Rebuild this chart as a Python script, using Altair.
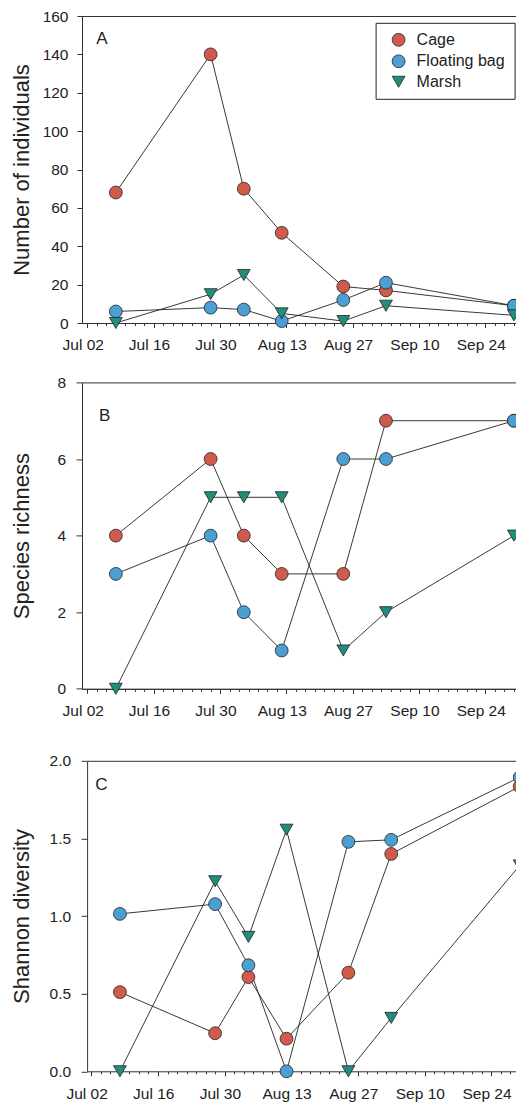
import altair as alt
import pandas as pd

FONT = "Liberation Sans"

dates = ["2013-07-08", "2013-07-28", "2013-08-04", "2013-08-12",
         "2013-08-25", "2013-09-03", "2013-09-30"]
series = ["Cage", "Floating bag", "Marsh"]
colors = ["#D05A4C", "#4C9FD2", "#1F8E7A"]
shapes = ["circle", "circle", "triangle-down"]
sizes = [165, 165, 215]

ind_cage = [68, 140, 70, 47, 19, 17, 9]
ind_bag = [6, 8, 7, 1, 12, 21, 9]
ind_marsh = [0, 15, 25, 5, 1, 9, 4]

rich_cage = [4, 6, 4, 3, 3, 7, 7]
rich_bag = [3, 4, 2, 1, 6, 6, 7]
rich_marsh = [0, 5, 5, 5, 1, 2, 4]

div_cage = [0.51, 0.245, 0.607, 0.21, 0.635, 1.40, 1.835]
div_bag = [1.014, 1.077, 0.683, 0.0, 1.478, 1.491, 1.894]
div_marsh = [0.0, 1.224, 0.866, 1.556, 0.0, 0.344, 1.326]

major_ticks = ["2013-07-02", "2013-07-16", "2013-07-30", "2013-08-13",
               "2013-08-27", "2013-09-10", "2013-09-24"]
minor_ticks = [d.strftime("%Y-%m-%d") for d in pd.date_range("2013-07-02", "2013-09-30", freq="2D")]


def dt(s, hours=0, minutes=0):
    y, m, d = (int(v) for v in s.split("-"))
    return alt.DateTime(year=y, month=m, date=d, hours=hours, minutes=minutes, utc=True)


major_vals = [dt(s) for s in major_ticks]
minor_vals = [dt(s) for s in minor_ticks]


def long_frame(cage, bag, marsh):
    rows = []
    for name, vals in zip(series, [cage, bag, marsh]):
        for d, v in zip(dates, vals):
            rows.append({"date": d, "series": name, "value": v})
    return pd.DataFrame(rows)


def panel(cage, bag, marsh, ytitle, ymax, yvals, yfmt, letter, lx, ly,
          width, height, xdomain, title_pad, ytick, ylabpad, show_legend,
          xrange=None, yoffset=0):
    df = long_frame(cage, bag, marsh)
    base = alt.Chart(df)
    if xrange is None:
        xscale = alt.Scale(type="utc", domain=xdomain)
    else:
        xscale = alt.Scale(type="utc", domain=xdomain, range=xrange)
    y = alt.Y("value:Q",
              scale=alt.Scale(domain=[0, ymax], nice=False, zero=True),
              axis=alt.Axis(values=yvals, format=yfmt, title=ytitle,
                            titleFontSize=22, titlePadding=title_pad,
                            minExtent=40, maxExtent=40, tickSize=ytick,
                            labelPadding=ylabpad, grid=False, offset=yoffset))
    lines = base.mark_line(color="#222", strokeWidth=0.9).encode(
        x=alt.X("date:T", scale=xscale, title=None,
                axis=alt.Axis(values=major_vals, format="%b %d", orient="bottom",
                              tickSize=4.5, labelPadding=10.2, labelOffset=-4.7,
                              grid=False)),
        y=y,
        detail="series:N",
    )
    if show_legend:
        legend = alt.Legend(orient="none", legendX=293.6, legendY=6.8,
                            padding=9, symbolOffset=6, labelOffset=10,
                            rowPadding=3.5, labelFontSize=16, labelFont=FONT,
                            labelColor="#222", symbolSize=160,
                            symbolStrokeColor="#222", symbolStrokeWidth=0.8,
                            strokeColor="#222", fillColor="white")
    else:
        legend = None
    points = base.mark_point(filled=True, opacity=1, stroke="#222", strokeWidth=0.8).encode(
        x=alt.X("date:T", scale=xscale, title=None,
                axis=alt.Axis(values=minor_vals, labels=False, tickSize=2.5,
                              domain=False, orient="bottom", grid=False)),
        y=y,
        color=alt.Color("series:N", title=None,
                        scale=alt.Scale(domain=series, range=colors), legend=legend),
        shape=alt.Shape("series:N", title=None,
                        scale=alt.Scale(domain=series, range=shapes), legend=legend),
        size=alt.Size("series:N", scale=alt.Scale(domain=series, range=sizes), legend=None),
    )
    text = alt.Chart(pd.DataFrame({"label": [letter]})).mark_text(
        align="left", baseline="alphabetic", fontSize=17, font=FONT, color="#222"
    ).encode(x=alt.value(lx), y=alt.value(ly), text="label:N")
    layers = [lines, points]
    if xrange is not None:
        frame = base.mark_point(opacity=0).encode(
            x=alt.X("date:T", scale=xscale, title=None,
                    axis=alt.Axis(orient="top", labels=False, ticks=False,
                                  domain=True, grid=False)),
            y=y,
        )
        layers.append(frame)
    layers.append(text)
    ch = alt.layer(*layers).resolve_axis(x="independent").properties(
        width=width, height=height)
    if xrange is not None:
        ch = ch.properties(view=alt.ViewBackground(stroke="transparent"))
    return ch


dom_ab = [dt("2013-06-30", 20, 40), dt("2013-09-30", 19, 40)]
dom_c = [dt("2013-07-01", 2, 30), dt("2013-10-01", 2, 30)]

A = panel(ind_cage, ind_bag, ind_marsh, "Number of individuals", 160,
          [0, 20, 40, 60, 80, 100, 120, 140, 160], "d", "A", 14.3, 27.6,
          435.8, 307, dom_ab, 8.9, 5, 9, True)
B = panel(rich_cage, rich_bag, rich_marsh, "Species richness", 8,
          [0, 2, 4, 6, 8], "d", "B", 16.9, 38.4,
          435.8, 306.4, dom_ab, 8.9, 6, 10.3, False)
C = panel(div_cage, div_bag, div_marsh, "Shannon diversity", 2.0,
          [0, 0.5, 1.0, 1.5, 2.0], ".1f", "C", 13.3, 29.4,
          443.0, 310.5, dom_c, 14.0, 6, 10.5, False,
          xrange=[5.1, 443.0], yoffset=-5.1)

top = alt.vconcat(A, B, spacing=20.4).resolve_scale(
    color="independent", shape="independent", size="independent")
chart = alt.vconcat(top, C, spacing=32.8).resolve_scale(
    color="independent", shape="independent", size="independent"
).properties(
    padding={"left": 1, "top": 0, "right": -13, "bottom": 0}
).configure_view(
    stroke="#333", strokeWidth=1
).configure_axis(
    domainColor="#333", tickColor="#333", labelColor="#222", titleColor="#222",
    labelFont=FONT, titleFont=FONT, labelFontSize=15.5, titleFontWeight="normal",
    domainWidth=1, tickWidth=1
)

chart.save("out.html", embed_options={"renderer": "svg", "actions": False})
